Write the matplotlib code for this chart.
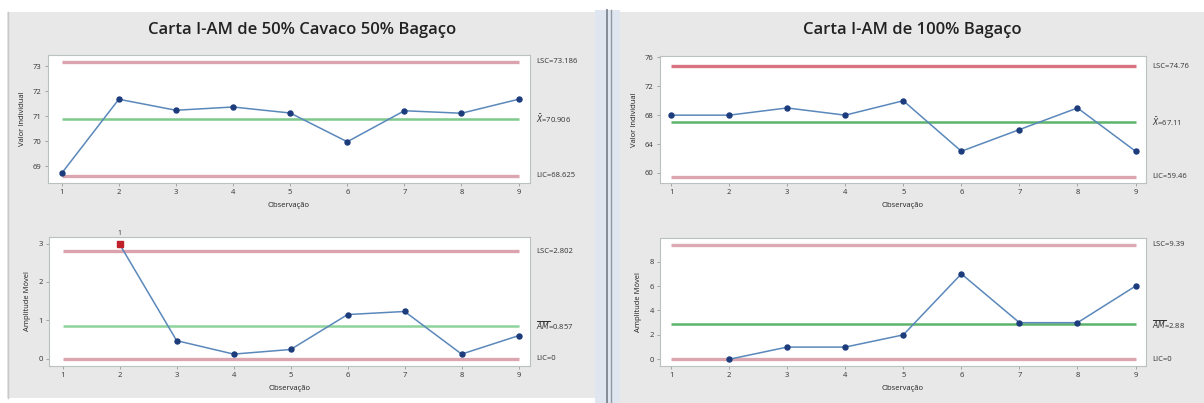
import matplotlib
matplotlib.use("Agg")
import matplotlib.pyplot as plt
import matplotlib.transforms as mtransforms
from matplotlib.patches import Rectangle
from matplotlib.lines import Line2D
import numpy as np

W, H = 1204, 403

obs = [1, 2, 3, 4, 5, 6, 7, 8, 9]
obs_mr = [2, 3, 4, 5, 6, 7, 8, 9]

# 50% cavaco / 50% bagaco
ind_mix = [68.72, 71.68, 71.24, 71.37, 71.13, 69.98, 71.22, 71.12, 71.68]
mr_mix = [2.98, 0.47, 0.12, 0.24, 1.15, 1.23, 0.12, 0.60]
lim_ind_mix = [73.186, 70.906, 68.625]
lim_mr_mix = [2.802, 0.857, 0.0]
txt_ind_mix = ["LSC=73.186", r"$\bar{X}$=70.906", "LIC=68.625"]
txt_mr_mix = ["LSC=2.802", r"$\overline{AM}$=0.857", "LIC=0"]
out_mix = [2]  # pontos fora de controle na AM

# 100% bagaco
ind_bag = [68, 68, 69, 68, 70, 63, 66, 69, 63]
mr_bag = [0, 1, 1, 2, 7, 3, 3, 6]
lim_ind_bag = [74.76, 67.11, 59.46]
lim_mr_bag = [9.39, 2.88, 0.0]
txt_ind_bag = ["LSC=74.76", r"$\bar{X}$=67.11", "LIC=59.46"]
txt_mr_bag = ["LSC=9.39", r"$\overline{AM}$=2.88", "LIC=0"]

plt.rcParams['font.family'] = ['Open Sans', 'DejaVu Sans']

fig = plt.figure(figsize=(W / 100, H / 100), dpi=100)
fig.patch.set_facecolor('white')


def px_rect(x0, y0, x1, y1):
    return [x0 / W, 1 - y1 / H, (x1 - x0) / W, (y1 - y0) / H]


# fundo cinza dos dois paineis e a divisoria
bg = fig.add_axes([0, 0, 1, 1])
bg.set_xlim(0, W)
bg.set_ylim(H, 0)
bg.axis('off')
bg.add_patch(Rectangle((7, 12), 588, 386, color='#e8e8e8', lw=0))
bg.add_patch(Rectangle((595, 10), 25, 393, color='#dfe6ef', lw=0))
bg.add_patch(Rectangle((620, 12), 584, 391, color='#e8e8e8', lw=0))
bg.add_line(Line2D([606.5, 606.5], [10, 403], color='#7d8590', lw=1.3))
bg.add_line(Line2D([610.5, 610.5], [10, 403], color='#8f98a3', lw=1.0))
bg.add_line(Line2D([7.5, 7.5], [12, 398], color='#c9c9c9', lw=1.0))

fig.text(302 / W, 1 - 30 / H, "Carta I-AM de 50% Cavaco 50% Bagaço",
         ha='center', va='center', fontsize=12, fontweight='semibold', color='#222222')
fig.text(912 / W, 1 - 30 / H, "Carta I-AM de 100% Bagaço",
         ha='center', va='center', fontsize=12, fontweight='semibold', color='#222222')


def chart(rect, xs, ys, lims, labels, ylim, yticks, xlim, ylabel,
          lsc_color, green, red_pts=()):
    ax = fig.add_axes(rect)
    ax.set_facecolor('white')
    ax.set_xlim(*xlim)
    ax.set_ylim(*ylim)
    ax.set_xticks(obs)
    ax.set_yticks(yticks)
    for s in ax.spines.values():
        s.set_color('#b9c2c0')
        s.set_linewidth(0.8)
    ax.tick_params(labelsize=5.5, colors='#333333', length=2.5, width=0.6,
                   pad=2)
    ax.tick_params(axis='both', color='#999999')
    ax.set_xlabel("Observação", fontsize=5.5, color='#222222', labelpad=4)
    ax.set_ylabel(ylabel, fontsize=5.5, color='#222222', labelpad=5)

    ax.plot([1, 9], [lims[0]] * 2, color=lsc_color, lw=2.4, solid_capstyle='butt')
    ax.plot([1, 9], [lims[2]] * 2, color='#dba6b0', lw=2.4, solid_capstyle='butt')
    ax.plot([1, 9], [lims[1]] * 2, color=green, lw=1.8, solid_capstyle='butt')

    ax.plot(xs, ys, color='#5a88bb', lw=1.1, zorder=3)
    ax.plot(xs, ys, 'o', color='#1d3c7c', ms=3.6, zorder=4)
    for p in red_pts:
        i = xs.index(p)
        ax.plot([p], [ys[i]], 's', color='#c0202a', ms=4.5, zorder=5)
        ax.annotate("1", (p, ys[i]), xytext=(0, 5), textcoords='offset points',
                    ha='center', va='bottom', fontsize=5, color='#333333')

    trans = mtransforms.blended_transform_factory(ax.transAxes, ax.transData)
    for v, t in zip(lims, labels):
        ax.text(1.012, v, t, transform=trans, ha='left', va='center',
                fontsize=5.5, color='#333333')
    return ax


chart(px_rect(48, 55, 530, 183), obs, ind_mix, lim_ind_mix, txt_ind_mix,
      (68.33, 73.45), [69, 70, 71, 72, 73], (0.76, 9.2), "Valor Individual",
      '#dba3ad', '#7fc98d')
chart(px_rect(49, 237, 530, 366), obs_mr, mr_mix, lim_mr_mix, txt_mr_mix,
      (-0.19, 3.17), [0, 1, 2, 3], (0.76, 9.2), "Amplitude Móvel",
      '#dba3ad', '#8ed39a', red_pts=out_mix)
chart(px_rect(660, 56, 1146, 183), obs, ind_bag, lim_ind_bag, txt_ind_bag,
      (58.6, 76.2), [60, 64, 68, 72, 76], (0.81, 9.18), "Valor Individual",
      '#d8727e', '#5db36b')
chart(px_rect(660, 238, 1146, 366), obs_mr, mr_bag, lim_mr_bag, txt_mr_bag,
      (-0.55, 9.94), [0, 2, 4, 6, 8], (0.81, 9.18), "Amplitude Móvel",
      '#dfa9b3', '#5db36b')

fig.savefig("out.png", dpi=100)
